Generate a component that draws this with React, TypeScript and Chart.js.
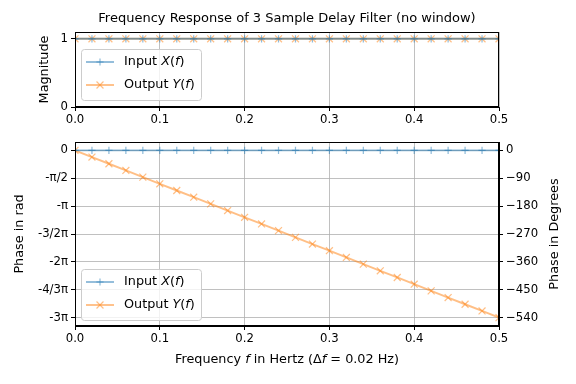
import React, { useEffect, useRef } from 'react';
import { Chart, registerables } from 'chart.js';

Chart.register(...registerables);

// ---------- data ----------
const freqs = [0, 0.02, 0.04, 0.06, 0.08, 0.1, 0.12, 0.14, 0.16, 0.18, 0.2, 0.22, 0.24, 0.26, 0.28, 0.3, 0.32, 0.34, 0.36, 0.38, 0.4, 0.42, 0.44, 0.46, 0.48, 0.5];
const magnitudeInput = [1, 1, 1, 1, 1, 1, 1, 1, 1, 1, 1, 1, 1, 1, 1, 1, 1, 1, 1, 1, 1, 1, 1, 1, 1, 1];
const magnitudeOutput = [1, 1, 1, 1, 1, 1, 1, 1, 1, 1, 1, 1, 1, 1, 1, 1, 1, 1, 1, 1, 1, 1, 1, 1, 1, 1];
const phaseInput = [0, 0, 0, 0, 0, 0, 0, 0, 0, 0, 0, 0, 0, 0, 0, 0, 0, 0, 0, 0, 0, 0, 0, 0, 0, 0];
const phaseOutput = [0, -0.377, -0.754, -1.131, -1.508, -1.885, -2.2619, -2.6389, -3.0159, -3.3929, -3.7699, -4.1469, -4.5239, -4.9009, -5.2779, -5.6549, -6.0319, -6.4088, -6.7858, -7.1628, -7.5398, -7.9168, -8.2938, -8.6708, -9.0478, -9.4248];
const freqTicks = [0, 0.1, 0.2, 0.3, 0.4, 0.5];
const freqTickLabels = ['0.0', '0.1', '0.2', '0.3', '0.4', '0.5'];
const magTicks = [0, 1];
const phaseTickValues = [0, -1.5708, -3.1416, -4.7124, -6.2832, -7.854, -9.4248];
const phaseTickLabels = ['0', '-π/2', '-π', '-3/2π', '-2π', '-4/3π', '-3π'];
const degreeTicks = [0, -90, -180, -270, -360, -450, -540];
const degreeTickLabels = ['0', '−90', '−180', '−270', '−360', '−450', '−540'];

const titleText = 'Frequency Response of 3 Sample Delay Filter (no window)';

const BLUE = 'rgba(31,119,180,0.5)';
const ORANGE = 'rgba(255,127,14,0.5)';
const FONT = '"DejaVu Sans", sans-serif';
const TICK_SIZE = 11.7;
const LABEL_SIZE = 12.8;
const TITLE_SIZE = 13;

Chart.defaults.font.family = FONT;
Chart.defaults.font.size = TICK_SIZE;
Chart.defaults.color = '#000';

type Seg = { t: string; i?: boolean };

function drawRich(ctx: CanvasRenderingContext2D, segs: Seg[], x: number, y: number, align: 'left' | 'center', size: number) {
  const fN = `${size}px ${FONT}`;
  const fI = `italic ${size}px ${FONT}`;
  ctx.save();
  ctx.textBaseline = 'middle';
  ctx.textAlign = 'left';
  ctx.fillStyle = '#000';
  const widths = segs.map((s) => {
    ctx.font = s.i ? fI : fN;
    return ctx.measureText(s.t).width;
  });
  const total = widths.reduce((a, b) => a + b, 0);
  let cx = align === 'center' ? x - total / 2 : x;
  segs.forEach((s, k) => {
    ctx.font = s.i ? fI : fN;
    ctx.fillText(s.t, cx, y);
    cx += widths[k];
  });
  ctx.restore();
}

function drawText(ctx: CanvasRenderingContext2D, text: string, x: number, y: number, size: number, rot = 0) {
  ctx.save();
  ctx.translate(x, y);
  ctx.rotate(rot);
  ctx.font = `${size}px ${FONT}`;
  ctx.fillStyle = '#000';
  ctx.textAlign = 'center';
  ctx.textBaseline = 'middle';
  ctx.fillText(text, 0, 0);
  ctx.restore();
}

function drawMarker(ctx: CanvasRenderingContext2D, style: string, x: number, y: number, r: number) {
  ctx.beginPath();
  if (style === 'cross') {
    ctx.moveTo(x - r, y);
    ctx.lineTo(x + r, y);
    ctx.moveTo(x, y - r);
    ctx.lineTo(x, y + r);
  } else {
    const d = r * Math.SQRT1_2;
    ctx.moveTo(x - d, y - d);
    ctx.lineTo(x + d, y + d);
    ctx.moveTo(x - d, y + d);
    ctx.lineTo(x + d, y - d);
  }
  ctx.stroke();
}

const PLUS_R = 3.6;
const X_R = 4.9;
const LINE_W = 1.9;

const legendEntries: { segs: Seg[]; color: string; marker: string; r: number }[] = [
  { segs: [{ t: 'Input ' }, { t: 'X', i: true }, { t: '(' }, { t: 'f', i: true }, { t: ')' }], color: BLUE, marker: 'cross', r: PLUS_R },
  { segs: [{ t: 'Output ' }, { t: 'Y', i: true }, { t: '(' }, { t: 'f', i: true }, { t: ')' }], color: ORANGE, marker: 'crossRot', r: X_R },
];

function legendPlugin(id: string, bottomGap: number) {
  return {
    id,
    afterDraw(chart: any) {
      const { ctx, chartArea } = chart;
      const w = 120;
      const h = 51;
      const left = chartArea.left + 6;
      const top = chartArea.bottom - bottomGap - h;
      ctx.save();
      ctx.beginPath();
      (ctx as any).roundRect(left + 0.5, top + 0.5, w, h, 3);
      ctx.fillStyle = 'rgba(255,255,255,0.8)';
      ctx.fill();
      ctx.strokeStyle = '#cccccc';
      ctx.lineWidth = 1;
      ctx.stroke();
      legendEntries.forEach((e, k) => {
        const y = top + 13 + k * 23;
        ctx.strokeStyle = e.color;
        ctx.lineWidth = LINE_W;
        ctx.beginPath();
        ctx.moveTo(left + 5, y);
        ctx.lineTo(left + 33, y);
        ctx.stroke();
        ctx.lineWidth = 1.2;
        drawMarker(ctx, e.marker, left + 19, y, e.r);
        drawRich(ctx, e.segs, left + 43, y, 'left', LABEL_SIZE);
      });
      ctx.restore();
    },
  };
}

const framePlugin = {
  id: 'frame',
  afterDatasetsDraw(chart: any) {
    const { ctx, chartArea } = chart;
    ctx.save();
    ctx.strokeStyle = '#000';
    ctx.lineWidth = 1;
    ctx.strokeRect(Math.round(chartArea.left) + 0.5, Math.round(chartArea.top) + 0.5, Math.round(chartArea.right - chartArea.left) - 1, Math.round(chartArea.bottom - chartArea.top) - 1);
    ctx.restore();
  },
};

function xScale(height: number) {
  return {
    type: 'linear' as const,
    min: 0,
    max: 0.5,
    afterBuildTicks: (s: any) => {
      s.ticks = freqTicks.map((v) => ({ value: v }));
    },
    afterFit: (s: any) => {
      s.height = height;
    },
    ticks: { color: '#000', padding: 2, maxRotation: 0, callback: (_v: any, i: number) => freqTickLabels[i] },
    grid: { color: '#b0b0b0', lineWidth: 0.8, tickColor: '#000', tickLength: 4, tickWidth: 1 },
    border: { color: '#000', width: 1 },
  };
}

function lineDs(data: number[], color: string, marker: string, r: number) {
  return {
    data: freqs.map((f, i) => ({ x: f, y: data[i] })),
    borderColor: color,
    backgroundColor: color,
    borderWidth: LINE_W,
    pointStyle: marker,
    pointRadius: r,
    pointBorderWidth: 1.2,
    pointBorderColor: color,
    pointHoverRadius: r,
    clip: 0,
  };
}

export default function App() {
  const topRef = useRef<HTMLCanvasElement>(null);
  const botRef = useRef<HTMLCanvasElement>(null);

  useEffect(() => {
    const top = new Chart(topRef.current!, {
      type: 'line',
      data: {
        datasets: [
          lineDs(magnitudeInput, BLUE, 'cross', PLUS_R),
          lineDs(magnitudeOutput, ORANGE, 'crossRot', X_R),
        ] as any,
      },
      options: {
        animation: false,
        responsive: false,
        events: [],
        layout: { padding: { left: 0, right: 77, top: 32, bottom: 0 } },
        plugins: { legend: { display: false }, tooltip: { enabled: false } },
        scales: {
          x: xScale(23) as any,
          y: {
            type: 'linear',
            min: 0,
            max: 1.1,
            afterBuildTicks: (s: any) => {
              s.ticks = magTicks.map((v) => ({ value: v }));
            },
            afterFit: (s: any) => {
              s.width = 75;
            },
            ticks: { color: '#000', padding: 3 },
            grid: { color: '#b0b0b0', lineWidth: 0.8, tickColor: '#000', tickLength: 4, tickWidth: 1 },
            border: { color: '#000', width: 1 },
          },
        },
      },
      plugins: [
        framePlugin,
        legendPlugin('legTop', 7),
        {
          id: 'texts',
          afterDraw(chart: any) {
            const { ctx, chartArea } = chart;
            const cx = (chartArea.left + chartArea.right) / 2;
            drawText(ctx, titleText, cx, chartArea.top - 13, TITLE_SIZE);
            drawText(ctx, 'Magnitude', 45, (chartArea.top + chartArea.bottom) / 2, LABEL_SIZE, -Math.PI / 2);
          },
        },
      ],
    });

    const radMax = 0.47124;
    const radMin = -9.89604;
    const degMax = 27;
    const degMin = -567;

    const bot = new Chart(botRef.current!, {
      type: 'line',
      data: {
        datasets: [
          lineDs(phaseInput, BLUE, 'cross', PLUS_R),
          lineDs(phaseOutput, ORANGE, 'crossRot', X_R),
        ] as any,
      },
      options: {
        animation: false,
        responsive: false,
        events: [],
        layout: { padding: { left: 0, right: 0, top: 12, bottom: 0 } },
        plugins: { legend: { display: false }, tooltip: { enabled: false } },
        scales: {
          x: xScale(58) as any,
          y: {
            type: 'linear',
            position: 'left',
            min: radMin,
            max: radMax,
            afterBuildTicks: (s: any) => {
              s.ticks = phaseTickValues.map((v) => ({ value: v }));
            },
            afterFit: (s: any) => {
              s.width = 75;
            },
            ticks: { color: '#000', padding: 3, callback: (_v: any, i: number) => phaseTickLabels[i] },
            grid: { color: '#b0b0b0', lineWidth: 0.8, tickColor: '#000', tickLength: 4, tickWidth: 1 },
            border: { color: '#000', width: 1 },
          },
          y2: {
            type: 'linear',
            position: 'right',
            min: degMin,
            max: degMax,
            afterBuildTicks: (s: any) => {
              s.ticks = degreeTicks.map((v) => ({ value: v }));
            },
            afterFit: (s: any) => {
              s.width = 77;
            },
            ticks: { color: '#000', padding: 3, callback: (_v: any, i: number) => degreeTickLabels[i] },
            grid: { drawOnChartArea: false, tickColor: '#000', tickLength: 4, tickWidth: 1 },
            border: { color: '#000', width: 1 },
          },
        },
      },
      plugins: [
        framePlugin,
        legendPlugin('legBot', 6),
        {
          id: 'texts',
          afterDraw(chart: any) {
            const { ctx, chartArea } = chart;
            const cx = (chartArea.left + chartArea.right) / 2;
            const cy = (chartArea.top + chartArea.bottom) / 2;
            drawText(ctx, 'Phase in rad', 20, cy, LABEL_SIZE, -Math.PI / 2);
            drawText(ctx, 'Phase in Degrees', 555, cy, LABEL_SIZE, -Math.PI / 2);
            drawRich(
              ctx,
              [
                { t: 'Frequency ' },
                { t: 'f', i: true },
                { t: ' in Hertz (Δ' },
                { t: 'f', i: true },
                { t: ' = 0.02 Hz)' },
              ],
              cx,
              chartArea.bottom + 34,
              'center',
              LABEL_SIZE
            );
          },
        },
      ],
    });

    return () => {
      top.destroy();
      bot.destroy();
    };
  }, []);

  return (
    <div style={{ position: 'absolute', left: 0, top: 0, width: 576, height: 384, background: '#fff' }}>
      <canvas ref={topRef} width={576} height={130} style={{ position: 'absolute', left: 0, top: 0, width: 576, height: 130 }} />
      <canvas ref={botRef} width={576} height={254} style={{ position: 'absolute', left: 0, top: 130, width: 576, height: 254 }} />
    </div>
  );
}
